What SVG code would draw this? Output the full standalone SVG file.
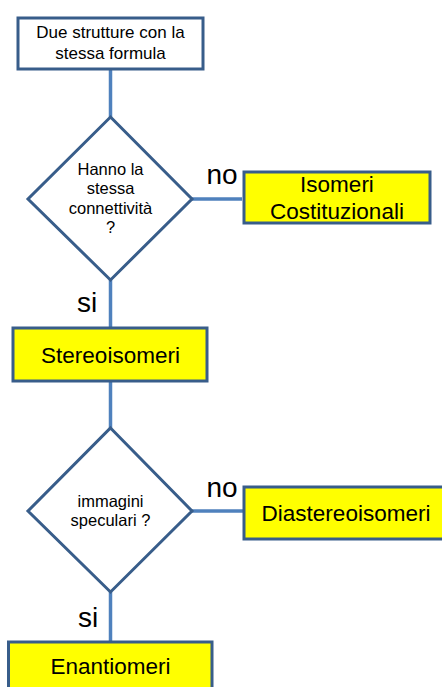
<svg xmlns="http://www.w3.org/2000/svg" width="442" height="687" viewBox="0 0 442 687">
<style>
.box{fill:#fff;stroke:#385D8A;stroke-width:3}
.ybox{fill:#FFFF00;stroke:#385D8A;stroke-width:3}
.dia{fill:#fff;stroke:#385D8A;stroke-width:3;stroke-linejoin:miter}
.con{stroke:#4F81BD;stroke-width:3.5;fill:none}
text{font-family:"Liberation Sans",Arial,sans-serif;fill:#000;text-anchor:middle}
.s{font-size:17px}
.d{font-size:16.5px}
.l{font-size:22.5px}
.lab{font-size:28px;text-anchor:start}
</style>
<rect width="442" height="687" fill="#fff"/>
<g id="connectors">
<line class="con" x1="110.5" y1="69" x2="110.5" y2="117"/>
<line class="con" x1="192" y1="199" x2="242" y2="199"/>
<line class="con" x1="110.5" y1="280" x2="110.5" y2="328"/>
<line class="con" x1="110.5" y1="381" x2="110.5" y2="428"/>
<line class="con" x1="192" y1="511" x2="243" y2="511"/>
<line class="con" x1="110.5" y1="592" x2="110.5" y2="642"/>
<text class="lab" x="206.5" y="184">no</text>
<text class="lab" x="77" y="312">si</text>
<text class="lab" x="206.5" y="497">no</text>
<text class="lab" x="78" y="627">si</text>
</g>
<g id="start">
<rect class="box" x="18" y="18" width="185" height="51"/>
<text class="s" x="110.5" y="38">Due strutture  con la</text>
<text class="s" x="110.5" y="59">stessa formula</text>
</g>
<g id="q1">
<polygon class="dia" points="110.5,117 192,199 110.5,280 28,199"/>
<text class="d" x="110.5" y="175">Hanno la</text>
<text class="d" x="110.5" y="194">stessa</text>
<text class="d" x="110.5" y="214">connettività</text>
<text class="d" x="110.5" y="233">?</text>
</g>
<g id="isomeri">
<rect class="ybox" x="244" y="172" width="186" height="51"/>
<text class="l" x="337" y="192">Isomeri</text>
<text class="l" x="337" y="219">Costituzionali</text>
</g>
<g id="stereo">
<rect class="ybox" x="13" y="328" width="194" height="53"/>
<text class="l" x="110.5" y="363">Stereoisomeri</text>
</g>
<g id="q2">
<polygon class="dia" points="110.5,428 192,511 110.5,592 28,511"/>
<text class="d" x="110.5" y="507">immagini</text>
<text class="d" x="110.5" y="526">speculari ?</text>
</g>
<g id="diastereo">
<rect class="ybox" x="244" y="487" width="210" height="52"/>
<text class="l" x="346" y="521">Diastereoisomeri</text>
</g>
<g id="enantio">
<rect class="ybox" x="8.5" y="642" width="203.5" height="60"/>
<text class="l" x="110.5" y="674">Enantiomeri</text>
</g>
</svg>
